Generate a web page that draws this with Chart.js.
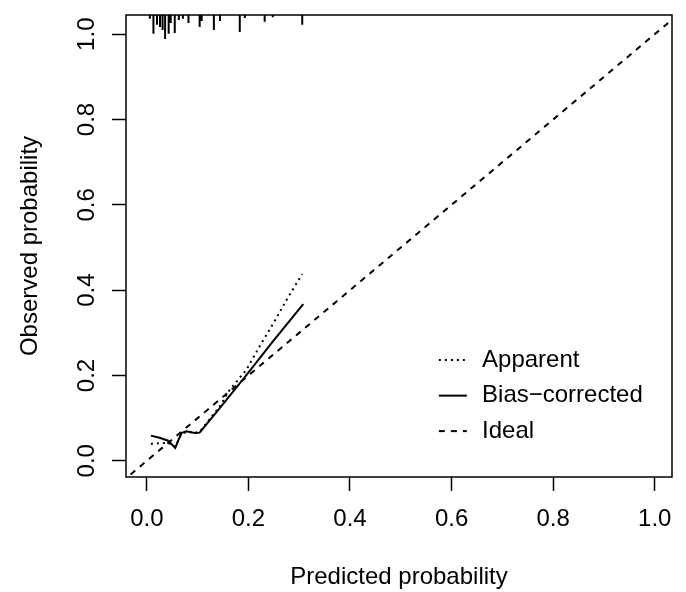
<!DOCTYPE html>
<html>
<head>
<meta charset="utf-8">
<script src="https://cdn.jsdelivr.net/npm/chart.js@4.4.1/dist/chart.umd.min.js"></script>
<style>
    html, body { margin: 0; padding: 0; background: #fff; }
    #contenedor { width: 686px; height: 592px; }
</style>
</head>
<body>
<div id="contenedor"><canvas id="grafica" width="686" height="592"></canvas></div>
<script>
const ticksX = [0, 0.2, 0.4, 0.6, 0.8, 1.0];
const ticksY = [0, 0.2, 0.4, 0.6, 0.8, 1.0];

// Curva corregida (Bias-corrected)
const corregidoX = [0.008, 0.025, 0.042, 0.056, 0.062, 0.068, 0.078, 0.094, 0.104, 0.144, 0.196, 0.249, 0.308];
const corregidoY = [0.059, 0.054, 0.047, 0.030, 0.048, 0.065, 0.069, 0.065, 0.066, 0.124, 0.201, 0.281, 0.367];

// Curva aparente (Apparent)
const aparenteX = [0.008, 0.025, 0.042, 0.056, 0.068, 0.078, 0.094, 0.104, 0.144, 0.163, 0.196, 0.222, 0.249, 0.275, 0.306];
const aparenteY = [0.040, 0.041, 0.042, 0.033, 0.062, 0.068, 0.066, 0.068, 0.128, 0.166, 0.213, 0.268, 0.322, 0.377, 0.438];

// Linea ideal
const idealX = [-0.05, 1.1];
const idealY = [-0.05, 1.1];

// Distribucion de predicciones (marcas arriba)
const rugX = [0.006, 0.013, 0.020, 0.026, 0.031, 0.036, 0.043, 0.047, 0.055, 0.063, 0.071, 0.082, 0.104, 0.108, 0.132, 0.144, 0.183, 0.193, 0.232, 0.248, 0.306];
const rugLargo = [0.009, 0.044, 0.023, 0.028, 0.035, 0.056, 0.044, 0.019, 0.042, 0.012, 0.009, 0.019, 0.028, 0.014, 0.035, 0.014, 0.040, 0.007, 0.016, 0.005, 0.023];

const etiquetas = ["Apparent", "Bias\u2212corrected", "Ideal"];

const LIM_X = [-0.041, 1.034];
const LIM_Y = [-0.038, 1.045];
const FUENTE = "'Liberation Sans', Arial, Helvetica, sans-serif";

const puntos = (xs, ys) => xs.map((x, i) => ({ x: x, y: ys[i] }));

const rugPuntos = [];
rugX.forEach((x, i) => {
    rugPuntos.push({ x: x, y: LIM_Y[1] }, { x: x, y: LIM_Y[1] - rugLargo[i] }, { x: x, y: null });
});

const linea = (label, data, dash) => ({
    label: label, data: data, borderColor: '#000', borderWidth: 2, borderDash: dash,
    pointRadius: 0, tension: 0, fill: false, spanGaps: false
});

// Fondo blanco, caja y leyenda dentro del area
const pluginCaja = {
    id: 'caja',
    beforeDraw(chart) {
        const ctx = chart.ctx;
        ctx.save();
        ctx.fillStyle = '#fff';
        ctx.fillRect(0, 0, chart.width, chart.height);
        ctx.restore();
    },
    afterDraw(chart) {
        const { ctx, chartArea: a, scales } = chart;
        ctx.save();
        ctx.strokeStyle = '#000';
        ctx.lineWidth = 1.5;
        ctx.strokeRect(a.left, a.top, a.right - a.left, a.bottom - a.top);

        const x0 = scales.x.getPixelForValue(0.575);
        const x1 = scales.x.getPixelForValue(0.63);
        const xt = scales.x.getPixelForValue(0.66);
        const y0 = scales.y.getPixelForValue(0.236);
        const paso = 35.5;
        ctx.font = '24px ' + FUENTE;
        ctx.fillStyle = '#000';
        ctx.textBaseline = 'middle';
        ctx.textAlign = 'left';
        chart.data.datasets.slice(0, 3).forEach((ds, i) => {
            const y = y0 + i * paso;
            ctx.beginPath();
            ctx.setLineDash(ds.borderDash || []);
            ctx.lineWidth = ds.borderWidth;
            ctx.moveTo(x0, y);
            ctx.lineTo(x1, y);
            ctx.stroke();
            ctx.fillText(etiquetas[i], xt, y);
        });
        ctx.restore();
    }
};

new Chart(document.getElementById('grafica'), {
    type: 'line',
    data: {
        datasets: [
            linea(etiquetas[0], puntos(aparenteX, aparenteY), [2, 4]),
            linea(etiquetas[1], puntos(corregidoX, corregidoY), []),
            linea(etiquetas[2], puntos(idealX, idealY), [6, 6]),
            linea('rug', rugPuntos, [])
        ]
    },
    options: {
        responsive: false,
        animation: false,
        layout: { padding: { top: 15, right: 14, left: 0, bottom: 0 } },
        plugins: { legend: { display: false }, tooltip: { enabled: false } },
        scales: {
            x: {
                type: 'linear', position: 'bottom', min: LIM_X[0], max: LIM_X[1],
                afterFit: s => { s.height = 115; s.paddingLeft = 0; s.paddingRight = 0; },
                afterBuildTicks: s => { s.ticks = ticksX.map(v => ({ value: v })); },
                grid: { display: true, drawOnChartArea: false, drawTicks: true, tickLength: 14, tickColor: '#000', tickWidth: 1.5 },
                border: { display: false },
                ticks: { color: '#000', font: { family: FUENTE, size: 24 }, padding: 14, maxRotation: 0, autoSkip: false, callback: v => v.toFixed(1) },
                title: { display: true, text: 'Predicted probability', color: '#000', font: { family: FUENTE, size: 24 }, padding: { top: 0, bottom: 0 } }
            },
            y: {
                type: 'linear', position: 'left', min: LIM_Y[0], max: LIM_Y[1],
                afterFit: s => { s.width = 126; s.paddingTop = 0; s.paddingBottom = 0; },
                afterBuildTicks: s => { s.ticks = ticksY.map(v => ({ value: v })); },
                grid: { display: true, drawOnChartArea: false, drawTicks: true, tickLength: 14, tickColor: '#000', tickWidth: 1.5 },
                border: { display: false },
                ticks: { color: '#000', font: { family: FUENTE, size: 24 }, padding: 8, minRotation: 90, maxRotation: 90, crossAlign: 'center', autoSkip: false, callback: v => v.toFixed(1) },
                title: { display: true, text: 'Observed probability', color: '#000', font: { family: FUENTE, size: 24 }, padding: { top: 16, bottom: 0 } }
            }
        }
    },
    plugins: [pluginCaja]
});
</script>
</body>
</html>
